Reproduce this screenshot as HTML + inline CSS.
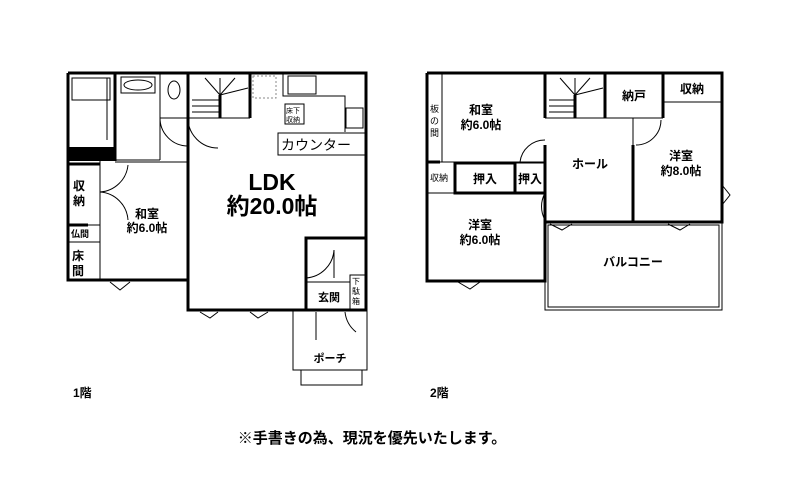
<!DOCTYPE html>
<html><head><meta charset="utf-8"><style>
html,body{margin:0;padding:0;background:#fff;}
svg{display:block;}
text{font-family:"Liberation Sans","Noto Sans CJK JP",sans-serif;fill:#000;}
.w{stroke:#000;stroke-width:3;fill:none;}
.t{stroke:#000;stroke-width:1;fill:none;}
.g{stroke:#888;stroke-width:1;fill:none;}
</style></head><body>
<svg width="800" height="498" viewBox="0 0 800 498" xmlns="http://www.w3.org/2000/svg">
<!-- ===== 1F ===== -->
<polyline class="w" points="68,73 366,73 366,310 188,310 188,280 68,280 68,73"/>
<rect x="68" y="147" width="47" height="14" fill="#000"/>
<line class="w" x1="115" y1="73" x2="115" y2="161"/>
<rect class="t" x="72" y="78" width="38" height="22"/>
<line class="t" x1="107" y1="78" x2="107" y2="140"/>
<line class="t" x1="160" y1="73" x2="160" y2="160"/>
<line class="t" x1="115" y1="160" x2="160" y2="160"/>
<ellipse class="t" cx="138" cy="85" rx="14" ry="5"/>
<rect class="t" x="121" y="77" width="34" height="16"/>
<line class="w" x1="188" y1="73" x2="188" y2="310"/>
<line class="t" x1="160" y1="118" x2="188" y2="118"/>
<ellipse class="t" cx="174" cy="90" rx="6" ry="9"/>
<line class="w" x1="250" y1="73" x2="250" y2="118"/>
<line class="t" x1="188" y1="118" x2="250" y2="118"/>
<line class="w" x1="220" y1="95" x2="220" y2="118"/>
<g class="t"><line x1="192" y1="100" x2="220" y2="100"/><line x1="192" y1="106" x2="220" y2="106"/><line x1="192" y1="112" x2="220" y2="112"/><line x1="205" y1="78" x2="220" y2="95"/><line x1="220" y1="78" x2="220" y2="95"/><line x1="235" y1="78" x2="220" y2="95"/><line x1="248" y1="88" x2="220" y2="95"/></g>
<path class="t" d="M188,118 A30,30 0 0 0 218,148"/>
<path class="t" d="M160,118 A28,28 0 0 0 188,146"/>
<rect class="g" x="253" y="76" width="23" height="22" stroke-dasharray="2,2"/>
<rect class="t" x="288" y="76" width="28" height="18"/>
<polyline class="t" points="283,73 283,96 345,96 345,132"/>
<rect class="t" x="346" y="108" width="17" height="20"/>
<rect class="t" x="285" y="104" width="19" height="20"/>
<text x="286" y="113" font-size="7">床下</text>
<text x="286" y="122" font-size="7">収納</text>
<rect class="t" x="278" y="133" width="88" height="22"/>
<text x="281" y="150" font-size="14">カウンター</text>
<line class="t" x1="100" y1="161" x2="100" y2="280"/>
<line class="t" x1="68" y1="225" x2="100" y2="225"/>
<line class="t" x1="68" y1="242" x2="100" y2="242"/>
<line class="w" x1="68" y1="164" x2="100" y2="164"/>
<line class="w" x1="68" y1="225" x2="88" y2="225"/>
<text x="73" y="190" font-size="12" font-weight="bold">収</text>
<text x="73" y="205" font-size="12" font-weight="bold">納</text>
<text x="71" y="237" font-size="9" font-weight="bold">仏間</text>
<text x="72" y="260" font-size="12" font-weight="bold">床</text>
<text x="72" y="275" font-size="12" font-weight="bold">間</text>
<line class="t" x1="115" y1="162" x2="188" y2="162"/>
<path class="t" d="M100,192 A30,30 0 0 0 128,165"/>
<path class="t" d="M100,192 A30,30 0 0 1 128,220"/>
<text x="147" y="218" font-size="12" font-weight="bold" text-anchor="middle">和室</text>
<text x="147" y="232" font-size="12" font-weight="bold" text-anchor="middle">約6.0帖</text>
<text x="272" y="190" font-size="23" font-weight="bold" text-anchor="middle">LDK</text>
<text x="272" y="214" font-size="23" font-weight="bold" text-anchor="middle">約20.0帖</text>
<polyline class="w" points="306,310 306,238 366,238"/>
<line class="t" x1="306" y1="282" x2="350" y2="282"/>
<rect class="t" x="350" y="275" width="16" height="35"/>
<text x="352" y="284" font-size="8">下</text>
<text x="352" y="294" font-size="8">駄</text>
<text x="352" y="304" font-size="8">箱</text>
<path class="t" d="M306,278 A30,30 0 0 0 334,250 L334,278"/>
<text x="318" y="301" font-size="11" font-weight="bold">玄関</text>
<polyline class="t" points="293,310 293,370 367,370 367,310"/>
<rect class="t" x="301" y="370" width="61" height="15"/>
<text x="330" y="362" font-size="11" font-weight="bold" text-anchor="middle">ポーチ</text>
<path class="t" d="M316,312 L316,340 M345,312 A30,30 0 0 0 356,332"/>
<path class="t" d="M200,312 L210,318 L218,312 M250,312 L258,318 L268,312 M110,282 L120,290 L130,282"/>
<text x="73" y="397" font-size="12" font-weight="bold">1階</text>

<!-- ===== 2F ===== -->
<polyline class="w" points="427,73 722,73 722,222 545,222 545,281 427,281 427,73"/>
<line class="t" x1="442" y1="73" x2="442" y2="162"/>
<text x="430" y="112" font-size="9">板</text>
<text x="430" y="124" font-size="9">の</text>
<text x="430" y="136" font-size="9">間</text>
<line class="w" x1="545" y1="73" x2="545" y2="118"/>
<line class="w" x1="545" y1="145" x2="545" y2="222"/>
<line class="w" x1="427" y1="162" x2="440" y2="162"/>
<line class="t" x1="440" y1="162" x2="545" y2="162"/>
<rect class="w" x="455" y="163" width="60" height="30"/>
<line class="t" x1="515" y1="163" x2="545" y2="163"/>
<line class="w" x1="455" y1="193" x2="545" y2="193"/>
<line class="t" x1="427" y1="193" x2="455" y2="193"/>
<text x="430" y="181" font-size="9">収納</text>
<text x="485" y="183" font-size="12" font-weight="bold" text-anchor="middle">押入</text>
<text x="530" y="183" font-size="12" font-weight="bold" text-anchor="middle">押入</text>
<path class="t" d="M545,140 A25,25 0 0 0 520,162 M545,193 A28,28 0 0 0 545,220"/>
<line class="w" x1="605" y1="73" x2="605" y2="118"/>
<line class="t" x1="545" y1="118" x2="605" y2="118"/>
<line class="w" x1="575" y1="95" x2="575" y2="118"/>
<g class="t"><line x1="549" y1="100" x2="575" y2="100"/><line x1="549" y1="106" x2="575" y2="106"/><line x1="549" y1="112" x2="575" y2="112"/><line x1="560" y1="78" x2="575" y2="95"/><line x1="575" y1="78" x2="575" y2="95"/><line x1="590" y1="78" x2="575" y2="95"/><line x1="603" y1="88" x2="575" y2="95"/></g>
<line class="t" x1="605" y1="118" x2="663" y2="118"/>
<line class="w" x1="663" y1="73" x2="663" y2="118"/>
<line class="t" x1="663" y1="102" x2="722" y2="102"/>
<text x="634" y="100" font-size="12" font-weight="bold" text-anchor="middle">納戸</text>
<text x="692" y="93" font-size="12" font-weight="bold" text-anchor="middle">収納</text>
<line class="w" x1="633" y1="145" x2="633" y2="222"/>
<line class="t" x1="633" y1="118" x2="633" y2="145"/>
<path class="t" d="M636,145 A25,25 0 0 0 661,120"/>
<text x="590" y="168" font-size="12" font-weight="bold" text-anchor="middle">ホール</text>
<text x="681" y="160" font-size="12" font-weight="bold" text-anchor="middle">洋室</text>
<text x="681" y="175" font-size="12" font-weight="bold" text-anchor="middle">約8.0帖</text>
<text x="481" y="114" font-size="12" font-weight="bold" text-anchor="middle">和室</text>
<text x="481" y="129" font-size="12" font-weight="bold" text-anchor="middle">約6.0帖</text>
<text x="480" y="229" font-size="12" font-weight="bold" text-anchor="middle">洋室</text>
<text x="480" y="244" font-size="12" font-weight="bold" text-anchor="middle">約6.0帖</text>
<rect class="t" x="545" y="222" width="177" height="88"/>
<rect class="t" x="548" y="225" width="171" height="82"/>
<text x="633" y="266" font-size="12" font-weight="bold" text-anchor="middle">バルコニー</text>
<path class="t" d="M458,282 L470,289 L480,282 M550,224 L562,230 L572,224 M668,224 L680,230 L690,224 M722,185 L730,195 L722,205"/>
<text x="430" y="397" font-size="12" font-weight="bold">2階</text>

<text x="372" y="443" font-size="15" font-weight="bold" text-anchor="middle">※手書きの為、現況を優先いたします。</text>
</svg>
</body></html>
